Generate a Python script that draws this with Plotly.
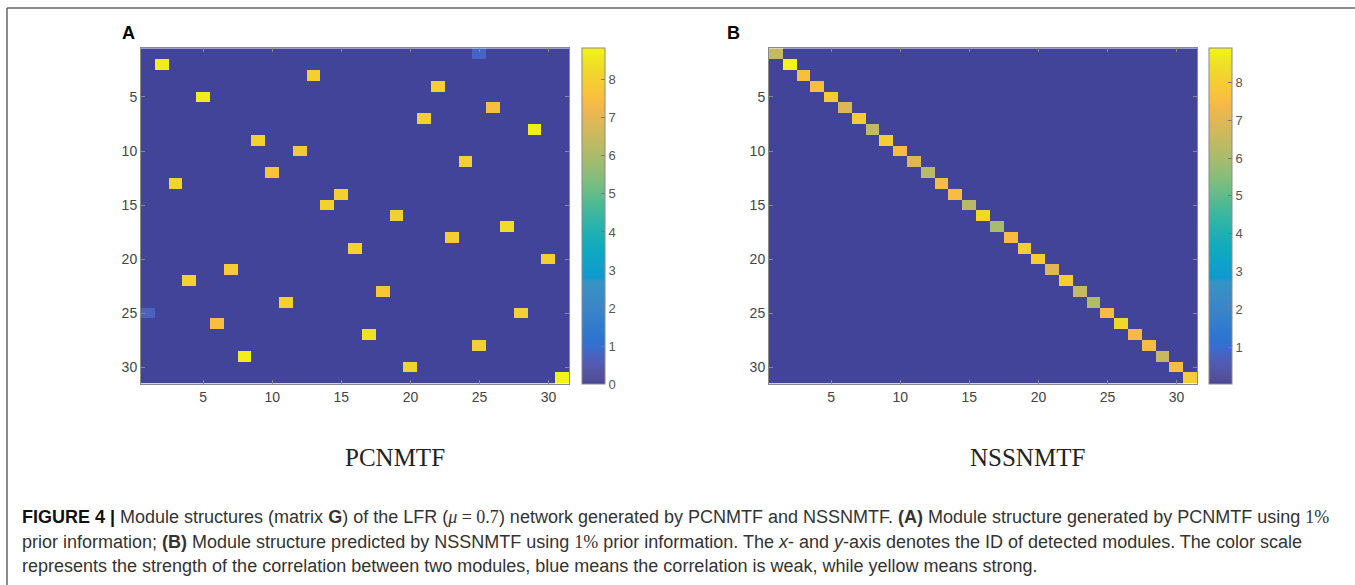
import numpy as np
import plotly.graph_objects as go

N = 31
ticks = [5, 10, 15, 20, 25, 30]

# Panel A (PCNMTF): non-zero cells (row, col, value)
a_rows = [1, 2, 3, 4, 5, 6, 7, 8, 9, 10, 11, 12, 13, 14, 15, 16, 17, 18, 19, 20,
          21, 22, 23, 24, 25, 25, 26, 27, 28, 29, 30, 31]
a_cols = [25, 2, 13, 22, 5, 26, 21, 29, 9, 12, 24, 10, 3, 15, 14, 19, 27, 23, 16, 30,
          7, 4, 18, 11, 1, 28, 6, 17, 25, 8, 20, 31]
a_vals = [0.8, 8.7, 8.0, 8.0, 8.7, 7.5, 8.0, 8.7, 8.1, 7.8, 8.0, 7.7, 8.1, 8.0, 8.1, 8.0,
          8.3, 7.9, 8.1, 8.0, 7.9, 8.1, 7.8, 8.0, 0.7, 8.1, 7.5, 8.4, 8.0, 8.7, 8.1, 8.83]

# Panel B (NSSNMTF): diagonal values and background value
b_diag = [6.5, 8.9, 7.6, 7.6, 8.0, 6.9, 8.0, 6.4, 8.0, 7.5, 7.0, 6.3, 7.5, 7.5, 6.3, 8.3,
          6.0, 7.5, 8.0, 8.0, 7.0, 8.0, 6.5, 6.1, 7.5, 8.3, 7.4, 7.5, 6.5, 7.6, 8.0]
b_background = 0.03

cbar_a_ticks = [0, 1, 2, 3, 4, 5, 6, 7, 8]
cbar_b_ticks = [1, 2, 3, 4, 5, 6, 7, 8]

ids = list(range(1, N + 1))
ZA = np.zeros((N, N))
for r, c, v in zip(a_rows, a_cols, a_vals):
    ZA[r - 1, c - 1] = v
ZB = np.full((N, N), b_background)
for i, v in enumerate(b_diag):
    ZB[i, i] = v

parula = [[0.2081, 0.1663, 0.5292], [0.2116, 0.1898, 0.5777], [0.2123, 0.2138, 0.6270], [0.2081, 0.2386, 0.6771],
          [0.1959, 0.2645, 0.7279], [0.1707, 0.2919, 0.7792], [0.1253, 0.3242, 0.8303], [0.0591, 0.3598, 0.8683],
          [0.0117, 0.3875, 0.8820], [0.0060, 0.4086, 0.8828], [0.0165, 0.4266, 0.8786], [0.0329, 0.4430, 0.8720],
          [0.0498, 0.4586, 0.8641], [0.0629, 0.4737, 0.8554], [0.0723, 0.4887, 0.8467], [0.0779, 0.5040, 0.8384],
          [0.0793, 0.5200, 0.8312], [0.0749, 0.5375, 0.8263], [0.0641, 0.5570, 0.8240], [0.0488, 0.5772, 0.8228],
          [0.0343, 0.5966, 0.8199], [0.0265, 0.6137, 0.8135], [0.0239, 0.6287, 0.8038], [0.0231, 0.6418, 0.7913],
          [0.0228, 0.6535, 0.7768], [0.0267, 0.6642, 0.7607], [0.0384, 0.6743, 0.7436], [0.0590, 0.6838, 0.7254],
          [0.0843, 0.6928, 0.7062], [0.1133, 0.7015, 0.6859], [0.1453, 0.7098, 0.6646], [0.1801, 0.7177, 0.6424],
          [0.2178, 0.7250, 0.6193], [0.2586, 0.7317, 0.5954], [0.3022, 0.7376, 0.5712], [0.3482, 0.7424, 0.5473],
          [0.3953, 0.7459, 0.5244], [0.4420, 0.7481, 0.5033], [0.4871, 0.7491, 0.4840], [0.5300, 0.7491, 0.4661],
          [0.5709, 0.7485, 0.4494], [0.6099, 0.7473, 0.4337], [0.6473, 0.7456, 0.4188], [0.6834, 0.7435, 0.4044],
          [0.7184, 0.7411, 0.3905], [0.7525, 0.7384, 0.3768], [0.7858, 0.7356, 0.3633], [0.8185, 0.7327, 0.3498],
          [0.8507, 0.7299, 0.3360], [0.8824, 0.7274, 0.3217], [0.9139, 0.7258, 0.3063], [0.9450, 0.7261, 0.2886],
          [0.9739, 0.7314, 0.2666], [0.9938, 0.7455, 0.2403], [0.9990, 0.7653, 0.2164], [0.9955, 0.7861, 0.1967],
          [0.9880, 0.8066, 0.1794], [0.9789, 0.8271, 0.1633], [0.9697, 0.8481, 0.1475], [0.9626, 0.8705, 0.1309],
          [0.9589, 0.8949, 0.1132], [0.9598, 0.9218, 0.0948], [0.9661, 0.9514, 0.0755], [0.9763, 0.9831, 0.0538]]


def wash(c, k):
    r, g, b = [x * 255 for x in c]
    return (r * (1 - k) + 150 * k, g * (1 - k) + 150 * k, b * (1 - k) + 165 * k)


cs = []
n = len(parula)
for i, c in enumerate(parula):
    k = 0.3 if i < 20 else 0.06
    r, g, b = wash(c, k)
    if i == 0:
        r, g, b = 66, 68, 154
    cs.append([i / (n - 1), f"rgb({r:.0f},{g:.0f},{b:.0f})"])

W, H = 1355, 585


def px(x):
    return x / W


def py(y):
    return 1 - y / H


ax_top, ax_bot = 48.3, 383.7
A_x = (141, 569.3)
B_x = (769, 1197.3)

tickfont = dict(family="Liberation Sans, Arial, sans-serif", size=14, color="#444444")


def cbar(x_left, tv):
    return dict(
        x=px(x_left), xanchor="left", xref="paper", xpad=0, ypad=0,
        y=py((ax_top + 384) / 2), yanchor="middle", len=(384 - ax_top) / H, lenmode="fraction",
        thickness=23, thicknessmode="pixels",
        outlinewidth=1, outlinecolor="#8a8a8a",
        ticks="inside", ticklen=4, tickcolor="#777777", tickwidth=1,
        tickvals=tv, ticktext=[str(t) for t in tv],
        tickfont=dict(family="Liberation Sans, Arial, sans-serif", size=13, color="#555555"),
    )


fig = go.Figure()
fig.add_trace(go.Heatmap(z=ZA, x=ids, y=ids, colorscale=cs, xaxis="x", yaxis="y",
                         colorbar=cbar(582, cbar_a_ticks), hoverinfo="z"))
fig.add_trace(go.Heatmap(z=ZB, x=ids, y=ids, colorscale=cs, xaxis="x2", yaxis="y2",
                         colorbar=cbar(1209, cbar_b_ticks), hoverinfo="z"))

axcommon = dict(showline=True, linecolor="#8a8a8a", linewidth=1, mirror="ticks",
                ticks="inside", ticklen=4, tickcolor="#8a8a8a", showgrid=False, zeroline=False,
                tickvals=ticks, tickfont=tickfont)

fig.update_layout(
    width=W, height=H, margin=dict(l=0, r=0, t=0, b=0),
    paper_bgcolor="white", plot_bgcolor="white",
    xaxis=dict(domain=[px(A_x[0]), px(A_x[1])], range=[0.5, N + 0.5], anchor="y", **axcommon),
    yaxis=dict(domain=[py(ax_bot), py(ax_top)], range=[N + 0.5, 0.5], anchor="x", **axcommon),
    xaxis2=dict(domain=[px(B_x[0]), px(B_x[1])], range=[0.5, N + 0.5], anchor="y2", **axcommon),
    yaxis2=dict(domain=[py(ax_bot), py(ax_top)], range=[N + 0.5, 0.5], anchor="x2", **axcommon),
)

annotations = [
    dict(text="<b>A</b>", x=px(128), y=py(33), font=dict(family="Liberation Sans, Arial", size=18, color="black")),
    dict(text="<b>B</b>", x=px(733), y=py(33), font=dict(family="Liberation Sans, Arial", size=18, color="black")),
    dict(text="PCNMTF", x=px(395), y=py(457), font=dict(family="Liberation Serif, Times New Roman, serif", size=25, color="#222222")),
    dict(text="NSSNMTF", x=px(1027), y=py(457), font=dict(family="Liberation Serif, Times New Roman, serif", size=25, color="#222222")),
]
mathspan = '<span style="font-family:Liberation Serif, serif">'
cap_font = dict(family="Liberation Sans, Arial, sans-serif", size=18, color="#333333")
caption = [
    '<b><span style="color:#111">FIGURE 4 |</span></b> Module structures (matrix <b>G</b>) of the LFR (' + mathspan + '<i>μ</i> = 0.7</span>) network generated by PCNMTF and NSSNMTF. <b>(A)</b> Module structure generated by PCNMTF using ' + mathspan + '1%</span>',
    'prior information; <b>(B)</b> Module structure predicted by NSSNMTF using ' + mathspan + '1%</span> prior information. The <i>x</i>- and <i>y</i>-axis denotes the ID of detected modules. The color scale',
    'represents the strength of the correlation between two modules, blue means the correlation is weak, while yellow means strong.',
]
for i, line in enumerate(caption):
    annotations.append(dict(text=line, x=px(20), xanchor="left", y=py(517 + 24.5 * i), font=cap_font))

for a in annotations:
    a.setdefault("xanchor", "center")
    a.update(xref="paper", yref="paper", yanchor="middle", showarrow=False)
fig.update_layout(annotations=annotations)

fig.update_layout(shapes=[
    dict(type="line", xref="paper", yref="paper", x0=px(7), x1=1, y0=py(8), y1=py(8), line=dict(color="#666666", width=1.5)),
    dict(type="line", xref="paper", yref="paper", x0=px(7), x1=px(7), y0=py(8), y1=0, line=dict(color="#666666", width=1.5)),
])

fig.write_html("out.html", config={"displayModeBar": False},
               post_script="document.body.style.margin='0';document.body.style.overflow='hidden';")
